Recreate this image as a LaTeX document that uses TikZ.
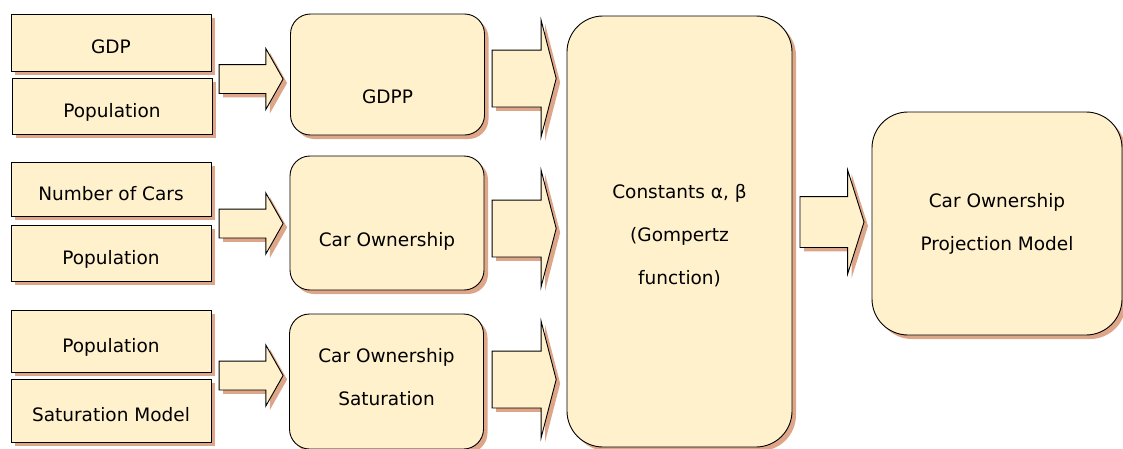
\documentclass[tikz,border=0pt]{standalone}
\usepackage{fontspec}
\setmainfont{DejaVu Sans}
\usetikzlibrary{shapes.arrows,shadows}

\definecolor{boxfill}{RGB}{255,241,204}
\definecolor{shadowc}{RGB}{222,166,136}

\tikzset{
  boxshadow/.style={drop shadow={shadow xshift=4pt,shadow yshift=-4pt,fill=shadowc,opacity=1}},
  inbox/.style={rectangle, draw, line width=0.9pt, fill=boxfill, boxshadow,
    minimum width=200pt, inner sep=0pt, text height=26pt, text depth=4pt},
  midbox/.style={rectangle, rounded corners=20pt, draw, line width=0.9pt, fill=boxfill, boxshadow,
    minimum width=194pt, align=center, inner sep=0pt},
  bigbox/.style={rectangle, rounded corners=36pt, draw, line width=0.9pt, fill=boxfill, boxshadow,
    align=center, inner sep=0pt},
  fatarrow/.style={single arrow, draw, line width=0.9pt, fill=boxfill, boxshadow,
    inner xsep=0pt, minimum height=64pt, shape border rotate=0},
  smallarrow/.style={fatarrow, inner ysep=14pt, single arrow head extend=16pt,
    single arrow tip angle=121},
  widearrow/.style={fatarrow, inner ysep=28pt, single arrow head extend=30pt,
    single arrow tip angle=151}
}

\begin{document}
\begin{tikzpicture}[x=1pt, y=-1pt, font=\fontsize{18.5}{43}\selectfont]
	  \useasboundingbox (0,0) rectangle (1123,448);

	  % inputs
	  \node[inbox, minimum height=57pt] (gdp) at (111,42.5) {GDP};
	  \node[inbox, minimum height=56pt] (pop1) at (112,106) {Population};
	  \node[inbox, minimum height=54pt] (cars) at (111,189) {Number of Cars};
	  \node[inbox, minimum height=56pt] (pop2) at (111,253) {Population};
	  \node[inbox, minimum height=62pt] (pop3) at (111,341) {Population};
	  \node[inbox, minimum height=63pt] (satmodel) at (111,410.5) {Saturation Model};

	  % intermediate results
	  \node[midbox, minimum height=121pt, label={[yshift=-22pt]center:GDPP}] (gdpp) at (387.5,74.5) {};
	  \node[midbox, minimum height=134pt, label={[yshift=-18pt]center:Car Ownership}] (own) at (387,223) {};
	  \node[midbox, minimum height=135pt, text depth=9pt] (sat) at (386.5,381.5) {Car Ownership\\Saturation};

	  \node[bigbox, minimum width=225pt, minimum height=431pt, text height=108pt] (const) at (679.5,231.5)
	    {Constants α, β\\(Gompertz\\function)};
	  \node[bigbox, minimum width=250pt, minimum height=223pt] (proj) at (997,223.5)
	    {Car Ownership\\Projection Model};

	  % block arrows
	  \node[smallarrow] (a1) at (247,79) {};
	  \node[smallarrow] (a2) at (247,223.5) {};
	  \node[smallarrow] (a3) at (247,375.5) {};
	  \node[widearrow] (b1) at (520.5,78.5) {};
	  \node[widearrow] (b2) at (520.5,228.5) {};
	  \node[widearrow] (b3) at (520.5,379.5) {};
	  \node[fatarrow, inner ysep=25pt, single arrow head extend=26.5pt,
	    single arrow tip angle=145] (c1) at (828,222) {};
	\end{tikzpicture}
\end{document}
